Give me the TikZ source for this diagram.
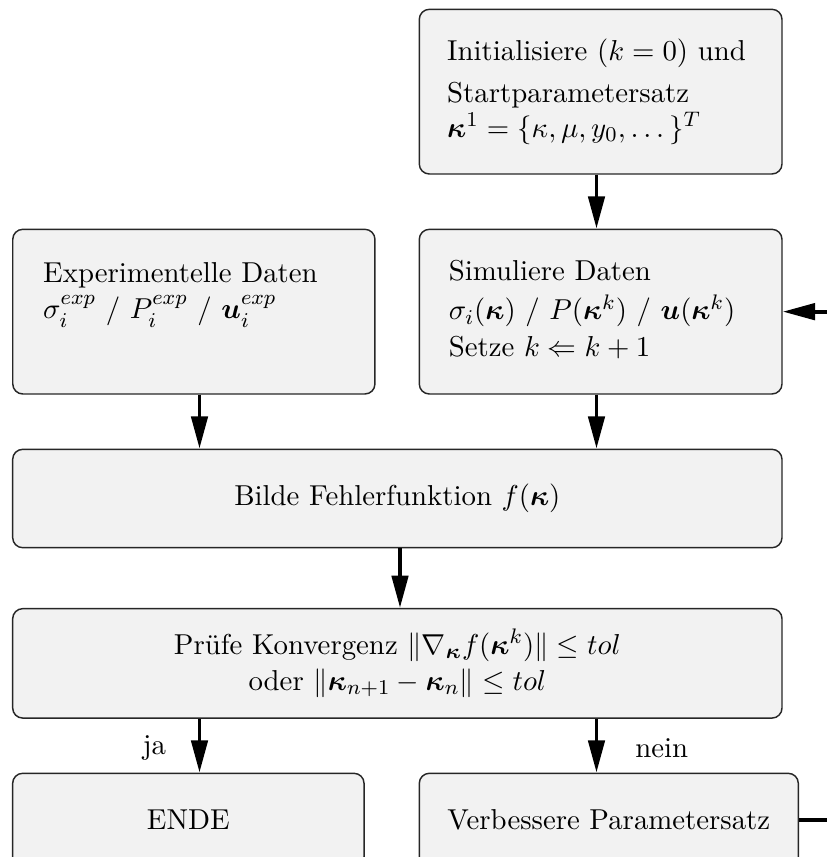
\documentclass[tikz,border=0pt]{standalone}
\usepackage{amsmath,amssymb,bm}
\usetikzlibrary{arrows.meta,calc}
\tikzset{
  box/.style={draw=black!85, line width=0.55pt, fill=black!5, rounded corners=3.8pt,
    inner sep=2pt, font=\fontsize{10.95}{13.6}\selectfont},
  txt/.style={inner sep=0pt, align=left, font=\fontsize{10.95}{13.6}\selectfont},
  arr/.style={line width=1.5pt, -{Triangle[length=12.3pt,width=6.2pt]}},
  lbl/.style={inner sep=0pt, font=\fontsize{10.95}{13.6}\selectfont}
}
\begin{document}
\begin{tikzpicture}[x=0.3802pt, y=-0.3802pt]
\useasboundingbox (0,0) rectangle (827,857);
\clip (0,0) rectangle (827,857);

\coordinate (cL) at (199.5,0);
\coordinate (cR) at (596.5,0);
\coordinate (cM) at (400,0);

% boxes
\node[box, minimum width=137.9pt, minimum height=62.6pt] (init) at (600.65,91.65) {};
\node[box, minimum width=137.9pt, minimum height=62.6pt] (sim) at (600.65,311.65) {};
\node[box, minimum width=137.7pt, minimum height=62.6pt] (exp) at (193.85,311.65) {};
\node[box, minimum width=292.5pt, minimum height=37.4pt] (bilde) at (397.35,498.5)
  {Bilde Fehlerfunktion $f(\bm{\kappa})$};
\node[box, minimum width=292.5pt, minimum height=41.6pt, align=center] (pruefe) at (397.35,663.35)
  {Prüfe Konvergenz $\|\nabla_{\bm{\kappa}} f(\bm{\kappa}^k)\| \leq tol$\\
   oder $\|\bm{\kappa}_{n+1} - \bm{\kappa}_n\| \leq tol$};
\node[box, minimum width=133.6pt, minimum height=35.5pt] (ende) at (188.35,820) {ENDE};
\node[box, minimum width=144.1pt, minimum height=35.5pt] (verb) at (608.8,820) {Verbessere Parametersatz};

% texts in the upper boxes
\node[txt, text width=130pt, anchor=base west] (initT) at (446.7,60)
  {Initialisiere $(k=0)$ und\\[2.6pt]
   Startparametersatz\\[-0.5pt]
   $\bm{\kappa}^1 = \{\kappa, \mu, y_0, \dots\}^T$};
\node[txt, text width=130pt, anchor=base west] (expT) at (42.7,282)
  {Experimentelle Daten\\[0.3pt]
   $\sigma_i^{exp}$ / $P_i^{exp}$ / $\bm{u}_i^{exp}$};
\node[txt, text width=130pt, anchor=base west] (simT) at (448.3,280)
  {Simuliere Daten\\[1.6pt]
   $\sigma_i(\bm{\kappa})$ / $P(\bm{\kappa}^k)$ / $\bm{u}(\bm{\kappa}^k)$\\[0.3pt]
   Setze $k \Leftarrow k+1$};

% connectors
\draw[arr] (init.south -| cR) -- (sim.north -| cR);
\draw[arr] (exp.south -| cL) -- (bilde.north -| cL);
\draw[arr] (sim.south -| cR) -- (bilde.north -| cR);
\draw[arr] (bilde.south -| cM) -- (pruefe.north -| cM);
\draw[arr] (pruefe.south -| cL) -- node[lbl, midway, left=12pt, yshift=-1pt] (ja) {ja} (ende.north -| cL);
\draw[arr] (pruefe.south -| cR) -- node[lbl, midway, right=14pt, yshift=-1pt] (nein) {nein} (verb.north -| cR);
\draw[arr] (verb.east) -- ++(50,0) |- (sim.east);
\end{tikzpicture}
\end{document}
